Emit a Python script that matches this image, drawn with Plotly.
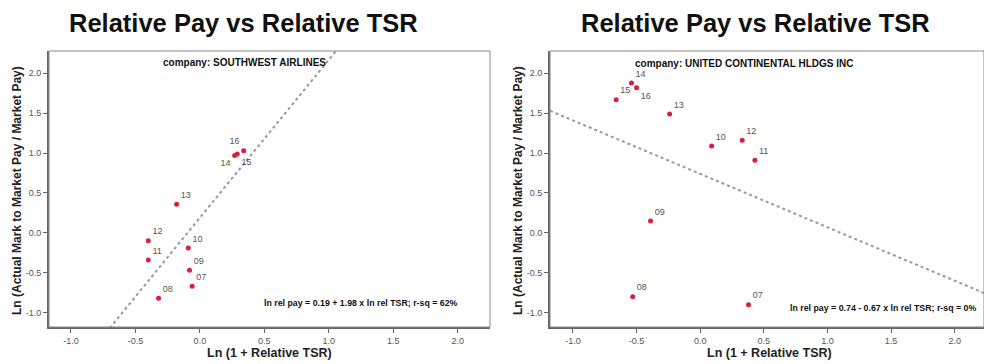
import plotly.graph_objects as go

W, H = 984, 364

# ---- data ----
sw_labels = ["07", "08", "09", "10", "11", "12", "13", "14", "15", "16"]
sw_x = [-0.06, -0.32, -0.08, -0.09, -0.40, -0.40, -0.18, 0.27, 0.29, 0.34]
sw_y = [-0.67, -0.82, -0.47, -0.19, -0.34, -0.10, 0.36, 0.97, 0.99, 1.03]
sw_pos = ["top right", "top right", "top right", "top right", "top right",
          "top right", "top right", "bottom left", "bottom right", "top left"]
sw_fit = [0.19, 1.98]  # intercept, slope

ua_labels = ["07", "08", "09", "10", "11", "12", "13", "14", "15", "16"]
ua_x = [0.38, -0.53, -0.39, 0.09, 0.43, 0.33, -0.24, -0.54, -0.66, -0.50]
ua_y = [-0.90, -0.80, 0.15, 1.09, 0.91, 1.16, 1.49, 1.88, 1.67, 1.82]
ua_pos = ["top right"] * 7 + ["top right", "top right", "bottom right"]
ua_fit = [0.74, -0.67]

tick_vals = [-1.0, -0.5, 0.0, 0.5, 1.0, 1.5, 2.0]
tick_text = ["-1.0", "-0.5", "0.0", "0.5", "1.0", "1.5", "2.0"]

title_text = "Relative Pay vs Relative TSR"
x_title = "Ln (1 + Relative TSR)"
y_title = "Ln (Actual Mark to Market Pay / Market Pay)"
sw_company = "company: SOUTHWEST AIRLINES"
ua_company = "company: UNITED CONTINENTAL HLDGS INC"
sw_eq = "ln rel pay = 0.19 + 1.98 x ln rel TSR; r-sq = 62%"
ua_eq = "ln rel pay = 0.74 - 0.67 x ln rel TSR; r-sq = 0%"

xr_left = [-1.17, 2.25]
xr_right = [-1.18, 2.23]
y_range = [-1.18, 2.28]

FONT = "Liberation Sans, Arial, sans-serif"
RED = "#d9203a"
GRAY = "#555555"

def px(x):
    return x / W

def py(y):
    return 1 - y / H

fig = go.Figure()

def add_panel(xs, ys, labels, pos, fit, xr, xa, ya):
    x0, x1 = xr
    fig.add_trace(go.Scatter(
        x=[x0, x1], y=[fit[0] + fit[1] * x0, fit[0] + fit[1] * x1],
        mode="lines", line=dict(color="#9a9a9a", width=2, dash="dot"),
        xaxis=xa, yaxis=ya, showlegend=False, hoverinfo="skip"))
    fig.add_trace(go.Scatter(
        x=xs, y=ys, mode="markers+text", text=labels, textposition=pos,
        textfont=dict(family=FONT, size=9, color=GRAY),
        marker=dict(color=RED, size=5),
        xaxis=xa, yaxis=ya, showlegend=False))

add_panel(sw_x, sw_y, sw_labels, sw_pos, sw_fit, xr_left, "x", "y")
add_panel(ua_x, ua_y, ua_labels, ua_pos, ua_fit, xr_right, "x2", "y2")

yd = [py(327), py(51)]
axis_common = dict(
    tickmode="array", tickvals=tick_vals, ticktext=tick_text,
    ticks="outside", ticklen=4, tickwidth=1, tickcolor="#666",
    showline=True, linecolor="#666", linewidth=2,
    showgrid=False, zeroline=False,
    tickfont=dict(family=FONT, size=9, color=GRAY),
)

fig.update_layout(
    width=W, height=H,
    margin=dict(l=0, r=0, t=0, b=0),
    paper_bgcolor="white", plot_bgcolor="white",
    xaxis=dict(domain=[px(49), px(490)], range=xr_left, anchor="y", **axis_common),
    yaxis=dict(domain=yd, range=y_range, anchor="x", **axis_common),
    xaxis2=dict(domain=[px(550), px(984)], range=xr_right, anchor="y2", **axis_common),
    yaxis2=dict(domain=yd, range=y_range, anchor="x2", **axis_common),
)

# frames
for xr_, yr_ in [("x domain", "y domain"), ("x2 domain", "y2 domain")]:
    fig.add_shape(type="rect", xref=xr_, yref=yr_, x0=0, x1=1, y0=0, y1=1,
                  line=dict(color="#888", width=1), layer="above")

ann = []
def A(text, x, y, size, bold=True, xanchor="center", yanchor="middle", angle=0, color="#111"):
    t = f"<b>{text}</b>" if bold else text
    ann.append(dict(text=t, x=px(x), y=py(y), xref="paper", yref="paper",
                    showarrow=False, xanchor=xanchor, yanchor=yanchor, textangle=angle,
                    font=dict(family=FONT, size=size, color=color)))

A(title_text, 243, 23, 25.5)
A(title_text, 755, 23, 25.5)
A(sw_company, 244, 62, 10)
A(ua_company, 744, 63, 10)
A(sw_eq, 460, 303, 8.8, xanchor="right")
A(ua_eq, 978, 308, 8.8, xanchor="right")
A(x_title, 269, 353, 12.5, color="#222")
A(x_title, 769, 353, 12.5, color="#222")
A(y_title, 17, 191, 12, angle=-90, color="#222")
A(y_title, 518, 191, 12, angle=-90, color="#222")
fig.update_layout(annotations=ann)

fig.write_html("out.html", config={"displayModeBar": False},
               post_script="document.body.style.margin='0';")
